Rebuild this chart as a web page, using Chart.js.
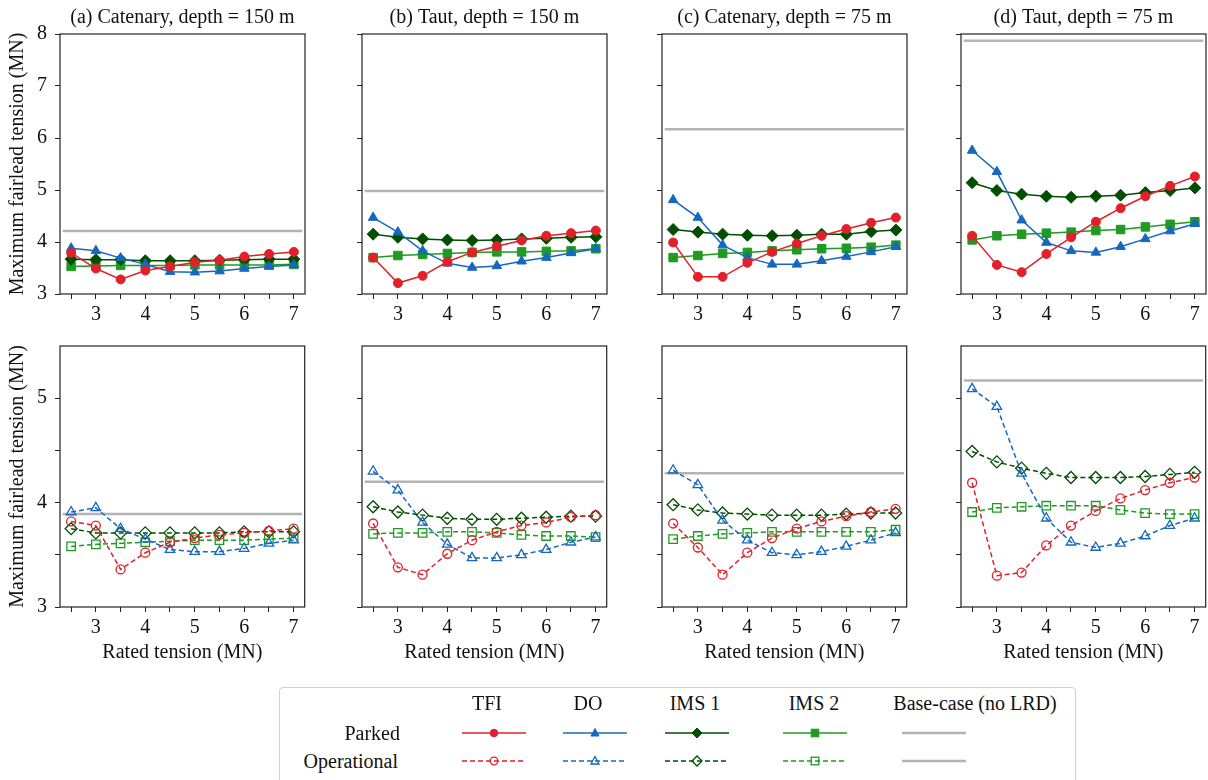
<!DOCTYPE html>
<html>
<head>
<meta charset="utf-8">
<script src="https://cdn.jsdelivr.net/npm/chart.js@4.4.1/dist/chart.umd.min.js"></script>
<style>
  html, body { margin: 0; padding: 0; background: #fff; overflow: hidden; }
  body { width: 1208px; height: 780px; position: relative; font-family: 'Liberation Serif', 'Times New Roman', serif; }
  canvas.panel { position: absolute; }
  #legendBox { position: absolute; left: 279px; top: 687px; width: 795px; height: 120px; border: 1px solid #d0d0d0; border-radius: 4px; }
  .lt { position: absolute; font-size: 20px; line-height: 24px; white-space: nowrap; color: #111; }
  .sample { position: absolute; }
</style>
</head>
<body>
<div id="legendBox"></div>
<script>
// Rated tension values (x) and tick positions
const xValues = [2.5, 3, 3.5, 4, 4.5, 5, 5.5, 6, 6.5, 7];
const xTicks = [2.5, 3, 3.5, 4, 4.5, 5, 5.5, 6, 6.5, 7];
const baseX = [2.33, 7.17];

const panelTitles = ['(a) Catenary, depth = 150 m', '(b) Taut, depth = 150 m', '(c) Catenary, depth = 75 m', '(d) Taut, depth = 75 m'];
const seriesNames = ['TFI', 'DO', 'IMS 1', 'IMS 2'];
const rowNames = ['Parked', 'Operational'];
const baseName = 'Base-case (no LRD)';

const yTicksTopFirst = [3, 3.5, 4, 4.5, 5, 5.5, 6, 6.5, 7, 7.5, 8];
const yTicksTop = [3, 4, 5, 6, 7, 8];
const yTicksBottom = [3, 3.5, 4, 4.5, 5];

// Parked (top row), one row per panel a-d
const tfiParked = [
  [3.79, 3.49, 3.28, 3.45, 3.53, 3.61, 3.65, 3.72, 3.77, 3.81],
  [3.70, 3.21, 3.35, 3.62, 3.80, 3.92, 4.03, 4.12, 4.17, 4.22],
  [3.99, 3.33, 3.33, 3.60, 3.81, 3.97, 4.12, 4.25, 4.37, 4.47],
  [4.12, 3.56, 3.42, 3.77, 4.09, 4.39, 4.65, 4.88, 5.08, 5.26]
];
const doParked = [
  [3.88, 3.83, 3.69, 3.57, 3.43, 3.42, 3.44, 3.49, 3.53, 3.56],
  [4.47, 4.19, 3.83, 3.59, 3.51, 3.54, 3.63, 3.70, 3.79, 3.87],
  [4.81, 4.47, 3.94, 3.70, 3.57, 3.57, 3.64, 3.72, 3.81, 3.91],
  [5.76, 5.35, 4.42, 3.99, 3.83, 3.80, 3.91, 4.06, 4.21, 4.35]
];
const ims1Parked = [
  [3.67, 3.66, 3.66, 3.64, 3.64, 3.64, 3.65, 3.66, 3.67, 3.67],
  [4.15, 4.09, 4.06, 4.04, 4.03, 4.04, 4.06, 4.07, 4.09, 4.10],
  [4.24, 4.19, 4.15, 4.13, 4.12, 4.13, 4.15, 4.15, 4.20, 4.23],
  [5.14, 4.99, 4.92, 4.88, 4.86, 4.88, 4.90, 4.95, 4.99, 5.04]
];
const ims2Parked = [
  [3.53, 3.54, 3.55, 3.55, 3.55, 3.56, 3.56, 3.56, 3.56, 3.57],
  [3.70, 3.74, 3.76, 3.78, 3.80, 3.81, 3.81, 3.82, 3.83, 3.87],
  [3.70, 3.74, 3.78, 3.80, 3.83, 3.85, 3.87, 3.88, 3.90, 3.94],
  [4.04, 4.12, 4.15, 4.17, 4.19, 4.22, 4.24, 4.29, 4.34, 4.39]
];
const baseParked = [4.21, 4.98, 6.17, 7.87];

// Operational (bottom row)
const tfiOperational = [
  [3.82, 3.78, 3.36, 3.52, 3.62, 3.66, 3.69, 3.71, 3.73, 3.75],
  [3.80, 3.38, 3.31, 3.51, 3.64, 3.72, 3.78, 3.81, 3.86, 3.88],
  [3.80, 3.57, 3.31, 3.52, 3.66, 3.75, 3.82, 3.87, 3.91, 3.94],
  [4.19, 3.30, 3.33, 3.59, 3.78, 3.92, 4.04, 4.12, 4.19, 4.24]
];
const doOperational = [
  [3.91, 3.95, 3.75, 3.65, 3.55, 3.53, 3.53, 3.56, 3.61, 3.64],
  [4.30, 4.12, 3.81, 3.60, 3.47, 3.47, 3.50, 3.55, 3.62, 3.67],
  [4.31, 4.17, 3.83, 3.64, 3.52, 3.50, 3.53, 3.58, 3.64, 3.71],
  [5.09, 4.92, 4.28, 3.85, 3.62, 3.57, 3.61, 3.68, 3.78, 3.85]
];
const ims1Operational = [
  [3.75, 3.71, 3.71, 3.71, 3.71, 3.71, 3.71, 3.72, 3.72, 3.72],
  [3.96, 3.91, 3.88, 3.85, 3.84, 3.84, 3.85, 3.86, 3.87, 3.87],
  [3.98, 3.93, 3.90, 3.89, 3.88, 3.88, 3.88, 3.89, 3.90, 3.90],
  [4.49, 4.39, 4.33, 4.28, 4.24, 4.24, 4.24, 4.25, 4.27, 4.29]
];
const ims2Operational = [
  [3.58, 3.60, 3.61, 3.62, 3.63, 3.64, 3.64, 3.64, 3.65, 3.66],
  [3.70, 3.71, 3.71, 3.72, 3.72, 3.71, 3.69, 3.68, 3.68, 3.67],
  [3.65, 3.68, 3.70, 3.71, 3.72, 3.72, 3.72, 3.72, 3.72, 3.74],
  [3.91, 3.95, 3.96, 3.97, 3.97, 3.97, 3.93, 3.90, 3.89, 3.89]
];
const baseOperational = [3.89, 4.20, 4.28, 5.17];

const seriesValues = [
  [tfiParked, doParked, ims1Parked, ims2Parked],
  [tfiOperational, doOperational, ims1Operational, ims2Operational]
];
const baseValues = [baseParked, baseOperational];

// Styles
const fontFamily = "'Liberation Serif', 'Times New Roman', serif";
const textColor = '#111';
const greyColor = '#b4b4b4';
const seriesStyles = [
  { color: '#e0202b', point: 'circle', radius: 4.5 },
  { color: '#1668bd', point: 'triangle', radius: 5.5 },
  { color: '#004f00', point: 'rectRot', radius: 6 },
  { color: '#1f9a22', point: 'rect', radius: 6 }
];

Chart.defaults.font.family = fontFamily;
Chart.defaults.color = textColor;

// Full box around each panel
const frameBox = {
  id: 'frameBox',
  afterDatasetsDraw(chart) {
    const { ctx, chartArea: a } = chart;
    ctx.save();
    ctx.strokeStyle = '#222';
    ctx.lineWidth = 1.2;
    ctx.strokeRect(a.left, a.top, a.right - a.left, a.bottom - a.top);
    ctx.restore();
  }
};

const panelLeft = [60, 362, 662, 961];
const panelWidth = 249;

function makePanel(row, col) {
  const isTop = row === 0;
  const yWidth = col === 0 ? 60 : 20;
  const canvas = document.createElement('canvas');
  canvas.className = 'panel';
  canvas.width = yWidth + panelWidth + 3;
  canvas.height = isTop ? 330 : 368;
  canvas.style.left = (panelLeft[col] - yWidth) + 'px';
  canvas.style.top = (isTop ? 0 : 312) + 'px';
  document.body.appendChild(canvas);

  const datasets = seriesStyles.map((s, k) => ({
    label: seriesNames[k] + ' ' + rowNames[row],
    data: seriesValues[row][k][col].map((y, i) => ({ x: xValues[i], y })),
    borderColor: s.color,
    backgroundColor: s.color,
    borderWidth: 1.5,
    borderDash: isTop ? [] : [5, 3],
    pointStyle: s.point,
    pointRadius: s.radius,
    pointBackgroundColor: isTop ? s.color : 'rgba(0,0,0,0)',
    pointBorderColor: s.color,
    pointBorderWidth: isTop ? 1 : 1.3,
    tension: 0
  }));
  datasets.push({
    label: baseName,
    data: baseX.map(x => ({ x, y: baseValues[row][col] })),
    borderColor: greyColor,
    borderWidth: 2.5,
    pointRadius: 0
  });

  const yTicks = isTop ? (col === 0 ? yTicksTopFirst : yTicksTop) : yTicksBottom;

  new Chart(canvas, {
    type: 'line',
    data: { datasets },
    options: {
      responsive: false,
      animation: false,
      layout: { padding: { left: 0, right: 3, top: 0, bottom: 0 } },
      plugins: { legend: { display: false }, tooltip: { enabled: false } },
      scales: {
        x: {
          type: 'linear',
          min: 2.275,
          max: 7.225,
          afterBuildTicks: s => { s.ticks = xTicks.map(v => ({ value: v })); },
          afterFit: s => { s.height = isTop ? 36 : 73; },
          ticks: {
            callback: v => Number.isInteger(v) ? String(v) : '',
            font: { size: 20 }, color: textColor, padding: 4,
            maxRotation: 0, autoSkip: false
          },
          grid: { drawOnChartArea: false, drawTicks: true, tickLength: 5, tickColor: '#222', tickWidth: 1 },
          border: { display: false },
          title: {
            display: !isTop,
            text: 'Rated tension (MN)',
            font: { size: 20 }, color: textColor,
            padding: { top: 0, bottom: 15 }
          }
        },
        xTop: {
          type: 'linear',
          position: 'top',
          min: 2.275,
          max: 7.225,
          afterFit: s => { s.height = 34; },
          ticks: { display: false },
          grid: { display: false },
          border: { display: false },
          title: {
            display: isTop,
            text: panelTitles[col],
            font: { size: 20 }, color: textColor,
            padding: { top: 6, bottom: 0 }
          }
        },
        y: {
          type: 'linear',
          min: 3,
          max: isTop ? 8 : 5.5,
          afterBuildTicks: s => { s.ticks = yTicks.map(v => ({ value: v })); },
          afterFit: s => { s.width = yWidth; },
          ticks: {
            callback: v => (col === 0 && Number.isInteger(v)) ? String(v) : '',
            font: { size: 20 }, color: textColor, padding: 8
          },
          grid: { drawOnChartArea: false, drawTicks: true, tickLength: 5, tickColor: '#222', tickWidth: 1 },
          border: { display: false },
          title: {
            display: col === 0,
            text: 'Maximum fairlead tension (MN)',
            font: { size: 20 }, color: textColor,
            padding: { top: 6, bottom: 0 }
          }
        }
      }
    },
    plugins: [frameBox]
  });
}

for (let row = 0; row < 2; row++) {
  for (let col = 0; col < 4; col++) makePanel(row, col);
}

// Table-style legend
const legendHeaderX = [487, 588, 695, 814, 975];
const legendSampleX = [462, 563, 665, 783, 902];
const legendRowY = [733, 761];

function addText(text, x, y, anchor) {
  const d = document.createElement('div');
  d.className = 'lt';
  d.textContent = text;
  d.style.left = x + 'px';
  d.style.top = y + 'px';
  d.style.transform = anchor === 'right' ? 'translate(-100%, -50%)' : 'translate(-50%, -50%)';
  document.body.appendChild(d);
}

function markerSvg(style, open, cx, cy) {
  const fill = open ? 'none' : style.color;
  const sw = open ? 1.3 : 1;
  const c = `stroke="${style.color}" stroke-width="${sw}" fill="${fill}"`;
  if (style.point === 'circle') return `<circle cx="${cx}" cy="${cy}" r="3.8" ${c}/>`;
  if (style.point === 'triangle') return `<polygon points="${cx},${cy - 4.5} ${cx + 4},${cy + 3} ${cx - 4},${cy + 3}" ${c}/>`;
  if (style.point === 'rectRot') return `<polygon points="${cx},${cy - 5} ${cx + 5},${cy} ${cx},${cy + 5} ${cx - 5},${cy}" ${c}/>`;
  return `<rect x="${cx - 3.8}" y="${cy - 3.8}" width="7.6" height="7.6" ${c}/>`;
}

function addSample(x, y, style, dashed, withMarker) {
  const w = 64, h = 16, cy = 8;
  const dash = dashed ? 'stroke-dasharray="5 3"' : '';
  const lw = withMarker ? 1.5 : 2.5;
  let svg = `<svg class="sample" width="${w}" height="${h}" style="left:${x}px;top:${y - cy}px" xmlns="http://www.w3.org/2000/svg">`;
  svg += `<line x1="0" y1="${cy}" x2="${w}" y2="${cy}" stroke="${style.color}" stroke-width="${lw}" ${dash}/>`;
  if (withMarker) svg += markerSvg(style, dashed, w / 2, cy);
  svg += '</svg>';
  document.body.insertAdjacentHTML('beforeend', svg);
}

seriesNames.concat([baseName]).forEach((name, k) => addText(name, legendHeaderX[k], 703, 'center'));
rowNames.forEach((name, r) => {
  addText(name, r === 0 ? 400 : 398, legendRowY[r], 'right');
  seriesStyles.forEach((s, k) => addSample(legendSampleX[k], legendRowY[r], s, r === 1, true));
  addSample(legendSampleX[4], legendRowY[r], { color: greyColor }, false, false);
});
</script>
</body>
</html>
